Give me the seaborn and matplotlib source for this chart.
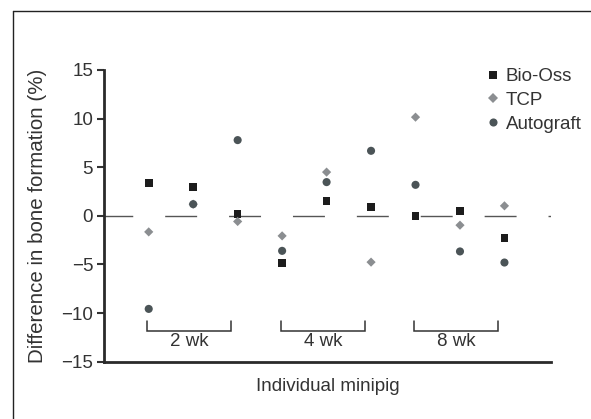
import numpy as np
import pandas as pd
import matplotlib
matplotlib.use("Agg")
import matplotlib.pyplot as plt
from matplotlib.lines import Line2D
import seaborn as sns

# values, one per minipig (1..9)
minipigs = [1, 2, 3, 4, 5, 6, 7, 8, 9]
bio_oss = [3.36, 2.95, 0.21, -4.84, 1.54, 0.93, 0.0, 0.48, -2.29]
tcp = [-1.65, 1.2, -0.58, -2.06, 4.5, -4.76, 10.15, -0.96, 1.03]
autograft = [-9.57, 1.2, 7.79, -3.6, 3.47, 6.69, 3.19, -3.66, -4.8]

weeks = ["2 wk", "4 wk", "8 wk"]
week_first = [1, 4, 7]
week_last = [3, 6, 9]

materials = ["Bio-Oss", "TCP", "Autograft"]
colors = {"Bio-Oss": "#1c1c1c", "TCP": "#8b8e91", "Autograft": "#4b5457"}
markers = {"Bio-Oss": "s", "TCP": "D", "Autograft": "o"}
sizes = {"Bio-Oss": 30, "TCP": 22, "Autograft": 34}

df = pd.DataFrame({
    "pig": minipigs * 3,
    "diff": bio_oss + tcp + autograft,
    "material": ["Bio-Oss"] * 9 + ["TCP"] * 9 + ["Autograft"] * 9,
})

sns.set_style("white")
plt.rcParams["font.family"] = ["Liberation Sans", "DejaVu Sans"]
plt.rcParams["text.color"] = "#333333"
plt.rcParams["axes.labelcolor"] = "#333333"
plt.rcParams["xtick.color"] = "#333333"
plt.rcParams["ytick.color"] = "#333333"

W, H = 591, 419
fig = plt.figure(figsize=(W / 100, H / 100), dpi=100)
ax = fig.add_axes([104.25 / W, 1 - 361.7 / H, (550.7 - 104.25) / W, (361.7 - 70) / H])

# zero reference line, dashed
ax.axhline(0, color="#555555", lw=1, linestyle=(2.3, (23, 23)), zorder=1)

sns.scatterplot(data=df, x="pig", y="diff", hue="material", style="material",
                size="material", hue_order=materials, style_order=materials,
                size_order=materials, palette=colors, markers=markers,
                sizes=sizes, edgecolor="none", linewidth=0, ax=ax, zorder=3)

ax.set_xlim(0, 10.04)
ax.set_ylim(-15, 15)
ax.set_yticks([-15, -10, -5, 0, 5, 10, 15])
ax.set_yticklabels(["\u221215", "\u221210", "\u22125", "0", "5", "10", "15"])
ax.set_xticks([])
ax.tick_params(axis="y", direction="out", length=5, width=1.5, pad=3, labelsize=13.5,
               left=True)
for s in ["top", "right"]:
    ax.spines[s].set_visible(False)
for s in ["left", "bottom"]:
    ax.spines[s].set_linewidth(2)
    ax.spines[s].set_color("#2a2a2a")

ax.set_xlabel("Individual minipig", fontsize=13.5, labelpad=12)
ax.set_ylabel("Difference in bone formation (%)", fontsize=14.8, labelpad=10)

# week brackets
for lab, a, b in zip(weeks, week_first, week_last):
    x0, x1 = a - 0.03, b - 0.14
    ax.plot([x0, x0, x1, x1], [-10.85, -11.85, -11.85, -10.85],
            color="#333333", lw=1.1, solid_joinstyle="miter", zorder=2)
    ax.text((x0 + x1) / 2, -12.0, lab, ha="center", va="top", fontsize=13.5)

leg = ax.legend(loc="upper left", bbox_to_anchor=(485 / W, 1 - 68 / H),
                bbox_transform=fig.transFigure, frameon=False, fontsize=13.5,
                handletextpad=0.3, labelspacing=0.36, borderaxespad=0,
                handlelength=0.8, borderpad=0)

# figure border (left and top only, cropped in the reference)
fig.add_artist(Line2D([12.5 / W, 12.5 / W], [0, 1 - 11.5 / H], color="#222222", lw=1,
                      transform=fig.transFigure))
fig.add_artist(Line2D([12.5 / W, 1], [1 - 11.5 / H, 1 - 11.5 / H], color="#222222", lw=1,
                      transform=fig.transFigure))

fig.savefig("out.png", dpi=100)
